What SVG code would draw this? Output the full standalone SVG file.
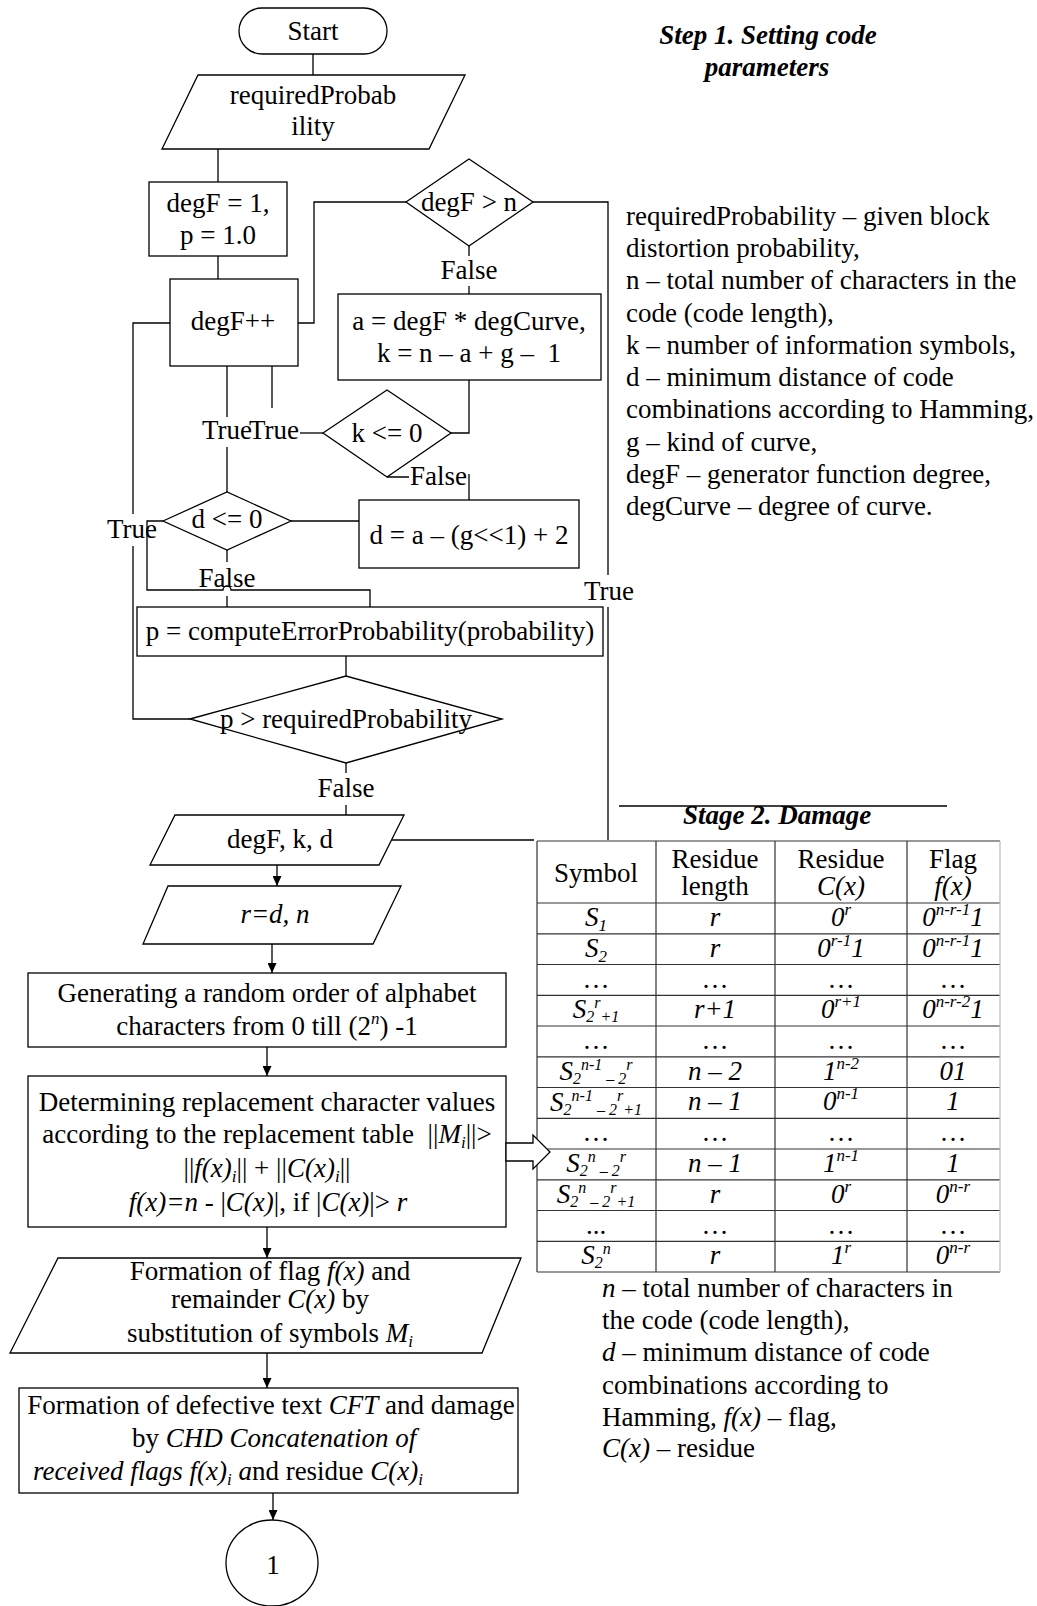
<svg xmlns="http://www.w3.org/2000/svg" width="1037" height="1606" viewBox="0 0 1037 1606">
<style>
text{font-family:"Liberation Serif","Times New Roman",serif;font-size:27px;fill:#000}
.m{text-anchor:middle}
.i{font-style:italic}
.bi{font-weight:bold;font-style:italic}
.sm{font-size:17px}
.ss{font-size:16px}
.s{fill:none;stroke:#000;stroke-width:1.3}
.n{fill:#fff;stroke:#000;stroke-width:1.3}
.tl{stroke:#333;stroke-width:1.2;fill:none}
.ar{marker-end:url(#ah)}
</style>
<defs>
<marker id="ah" markerUnits="userSpaceOnUse" markerWidth="10" markerHeight="9" refX="10" refY="4.5" orient="auto">
<path d="M0,0 L10,4.5 L0,9 z" fill="#000"/>
</marker>
</defs>
<rect width="1037" height="1606" fill="#fff"/>

<g id="start"><rect class="n" x="239" y="8" width="148" height="46" rx="23"/><text class="m" x="313" y="40">Start</text></g>
<g id="input-prob"><polygon class="n" points="198,75 465,75 429,149 162,149"/><text class="m" x="313" y="104">requiredProbab</text><text class="m" x="313" y="135">ility</text></g>
<g id="init"><rect class="n" x="149" y="182" width="138" height="74"/><text class="m" x="218" y="212">degF = 1,</text><text class="m" x="218" y="244">p = 1.0</text></g>
<g id="inc"><rect class="n" x="170" y="279" width="128" height="87"/><text class="m" x="233" y="330">degF++</text></g>
<g id="cond-degf"><polygon class="n" points="406,202 469,159 533,202 469,246"/><text class="m" x="469" y="211">degF &gt; n</text></g>
<g id="calc-ak"><rect class="n" x="338" y="294" width="263" height="86"/><text class="m" x="469" y="330">a = degF * degCurve,</text><text class="m" x="469" y="362">k = n – a + g – &#160;1</text></g>
<g id="cond-k"><polygon class="n" points="323,433 387,390 451,433 387,477"/><text class="m" x="387" y="442">k &lt;= 0</text></g>
<g id="cond-d"><polygon class="n" points="163,521 227,492 291,521 227,550"/><text class="m" x="227" y="528">d &lt;= 0</text></g>
<g id="calc-d"><rect class="n" x="359" y="500" width="220" height="68"/><text class="m" x="469" y="544">d = a – (g&lt;&lt;1) + 2</text></g>
<g id="compute"><rect class="n" x="137" y="607" width="466" height="49"/><text class="m" x="370" y="640">p = computeErrorProbability(probability)</text></g>
<g id="cond-p"><polygon class="n" points="190,719 346,676 502,719 346,763"/><text class="m" x="346" y="728">p &gt; requiredProbability</text></g>
<g id="out-params"><polygon class="n" points="175,815 404,815 379,865 150,865"/><text class="m" x="280" y="848">degF, k, d</text></g>
<g id="in-rn"><polygon class="n" points="168,886 401,886 373,944 143,944"/><text class="m i" x="275" y="923">r=d, n</text></g>
<g id="generate"><rect class="n" x="28" y="973" width="478" height="74"/><text class="m" x="267" y="1002">Generating a random order of alphabet</text><text class="m" x="267" y="1035">characters from 0 till (2<tspan class="sm i" dy="-11">n</tspan><tspan dy="11">) -1</tspan></text></g>
<g id="determine"><rect class="n" x="28" y="1076" width="478" height="151"/>
<text class="m" x="267" y="1111">Determining replacement character values</text>
<text class="m" x="267" y="1143">according to the replacement table &#160;||<tspan class="i">M</tspan><tspan class="sm i" dy="5">i</tspan><tspan dy="-5">||&gt;</tspan></text>
<text class="m" x="267" y="1177">||<tspan class="i">f(x)</tspan><tspan class="sm i" dy="5">i</tspan><tspan dy="-5">|| + ||</tspan><tspan class="i">C(x)</tspan><tspan class="sm i" dy="5">i</tspan><tspan dy="-5">||</tspan></text>
<text class="m" x="268" y="1211"><tspan class="i">f(x)=n</tspan> - |<tspan class="i">C(x)</tspan>|, if |<tspan class="i">C(x)</tspan>|&gt; <tspan class="i">r</tspan></text></g>
<g id="formation"><polygon class="n" points="58,1258 521,1258 482,1353 10,1353"/>
<text class="m" x="270" y="1280">Formation of flag <tspan class="i">f(x)</tspan> and</text>
<text class="m" x="270" y="1308">remainder <tspan class="i">C(x)</tspan> by</text>
<text class="m" x="270" y="1342">substitution of symbols <tspan class="i">M</tspan><tspan class="sm i" dy="5">i</tspan></text></g>
<g id="defective"><rect class="n" x="19" y="1388" width="499" height="105"/>
<text class="m" x="271" y="1414">Formation of defective text <tspan class="i">CFT</tspan> and damage</text>
<text x="132" y="1447">by <tspan class="i">CHD Concatenation of</tspan></text>
<text x="33" y="1480"><tspan class="i">received flags f(x)</tspan><tspan class="sm i" dy="5">i</tspan><tspan class="i" dy="-5"> a</tspan>nd residue <tspan class="i">C(x)</tspan><tspan class="sm i" dy="5">i</tspan></text></g>
<g id="connector-1"><ellipse class="n" cx="272" cy="1563" rx="46" ry="43"/><text class="m" x="273" y="1574">1</text></g>

<g id="labels">
<text class="m" x="469" y="279">False</text>
<text x="410" y="485">False</text>
<text x="202" y="439">True</text>
<text x="249" y="439">True</text>
<text x="107" y="538">True</text>
<text class="m" x="227" y="587">False</text>
<text class="m" x="346" y="797">False</text>
<text x="584" y="600">True</text>
</g>

<g id="step1-title">
<text class="m bi" x="768" y="44">Step 1. Setting code</text>
<text class="m bi" x="767" y="76">parameters</text>
</g>
<g id="step1-legend">
<text x="626" y="225">requiredProbability – given block</text>
<text x="626" y="257">distortion probability,</text>
<text x="626" y="289">n – total number of characters in the</text>
<text x="626" y="322">code (code length),</text>
<text x="626" y="354">k – number of information symbols,</text>
<text x="626" y="386">d – minimum distance of code</text>
<text x="626" y="418">combinations according to Hamming,</text>
<text x="626" y="451">g – kind of curve,</text>
<text x="626" y="483">degF – generator function degree,</text>
<text x="626" y="515">degCurve – degree of curve.</text>
</g>

<g id="stage2-title">
<path class="s" d="M619,806 H947"/>
<text class="m bi" x="777" y="824">Stage 2. Damage</text>
</g>

<g id="table">
<rect x="537" y="841" width="463" height="431" fill="#fff"/>
<path class="tl" d="M537,841 H1000 M537,903 H1000 M537,933.8 H1000 M537,964.5 H1000 M537,995.3 H1000 M537,1026 H1000 M537,1056.8 H1000 M537,1087.5 H1000 M537,1118.3 H1000 M537,1149 H1000 M537,1179.8 H1000 M537,1210.5 H1000 M537,1241.3 H1000 M537,1272 H1000 M537,841 V1272 M656,841 V1272 M775,841 V1272 M907,841 V1272"/>
<path d="M1000,841 V1272" stroke="#bbb" stroke-width="1.2"/>
<text class="m" x="596" y="882">Symbol</text>
<text class="m" x="715" y="868">Residue</text><text class="m" x="715" y="895">length</text>
<text class="m" x="841" y="868">Residue</text><text class="m i" x="841" y="895">C(x)</text>
<text class="m" x="953" y="868">Flag</text><text class="m i" x="953" y="895">f(x)</text>

<text class="m i" x="596" y="926">S<tspan class="sm" dy="5">1</tspan></text>
<text class="m i" x="596" y="957">S<tspan class="sm" dy="5">2</tspan></text>
<text class="m" x="596" y="988">…</text>
<text class="m i" x="596" y="1018">S<tspan class="ss" dy="4">2</tspan><tspan class="ss" dy="-14">r</tspan><tspan class="ss" dy="14">+1</tspan></text>
<text class="m" x="596" y="1049">…</text>
<text class="m i" x="596" y="1080">S<tspan class="ss" dy="4">2</tspan><tspan class="ss" dy="-14">n-1</tspan><tspan class="ss" dy="14"> – 2</tspan><tspan class="ss" dy="-14">r</tspan></text>
<text class="m i" x="596" y="1111">S<tspan class="ss" dy="4">2</tspan><tspan class="ss" dy="-14">n-1</tspan><tspan class="ss" dy="14"> – 2</tspan><tspan class="ss" dy="-14">r</tspan><tspan class="ss" dy="14">+1</tspan></text>
<text class="m" x="596" y="1141">…</text>
<text class="m i" x="596" y="1172">S<tspan class="ss" dy="4">2</tspan><tspan class="ss" dy="-14">n</tspan><tspan class="ss" dy="14"> – 2</tspan><tspan class="ss" dy="-14">r</tspan></text>
<text class="m i" x="596" y="1203">S<tspan class="ss" dy="4">2</tspan><tspan class="ss" dy="-14">n</tspan><tspan class="ss" dy="14"> – 2</tspan><tspan class="ss" dy="-14">r</tspan><tspan class="ss" dy="14">+1</tspan></text>
<text class="m" x="596" y="1234">...</text>
<text class="m i" x="596" y="1264">S<tspan class="ss" dy="4">2</tspan><tspan class="ss" dy="-14">n</tspan></text>

<text class="m i" x="715" y="926">r</text>
<text class="m i" x="715" y="957">r</text>
<text class="m" x="715" y="988">…</text>
<text class="m i" x="715" y="1018">r+1</text>
<text class="m" x="715" y="1049">…</text>
<text class="m i" x="715" y="1080">n – 2</text>
<text class="m i" x="715" y="1110">n – 1</text>
<text class="m" x="715" y="1141">…</text>
<text class="m i" x="715" y="1172">n – 1</text>
<text class="m i" x="715" y="1203">r</text>
<text class="m" x="715" y="1234">…</text>
<text class="m i" x="715" y="1264">r</text>

<text class="m i" x="841" y="926">0<tspan class="sm" dy="-11">r</tspan></text>
<text class="m i" x="841" y="957">0<tspan class="sm" dy="-11">r-1</tspan><tspan dy="11">1</tspan></text>
<text class="m" x="841" y="988">…</text>
<text class="m i" x="841" y="1018">0<tspan class="sm" dy="-11">r+1</tspan></text>
<text class="m" x="841" y="1049">…</text>
<text class="m i" x="841" y="1080">1<tspan class="sm" dy="-11">n-2</tspan></text>
<text class="m i" x="841" y="1110">0<tspan class="sm" dy="-11">n-1</tspan></text>
<text class="m" x="841" y="1141">…</text>
<text class="m i" x="841" y="1172">1<tspan class="sm" dy="-11">n-1</tspan></text>
<text class="m i" x="841" y="1203">0<tspan class="sm" dy="-11">r</tspan></text>
<text class="m" x="841" y="1234">…</text>
<text class="m i" x="841" y="1264">1<tspan class="sm" dy="-11">r</tspan></text>

<text class="m i" x="953" y="926">0<tspan class="sm" dy="-11">n-r-1</tspan><tspan dy="11">1</tspan></text>
<text class="m i" x="953" y="957">0<tspan class="sm" dy="-11">n-r-1</tspan><tspan dy="11">1</tspan></text>
<text class="m" x="953" y="988">…</text>
<text class="m i" x="953" y="1018">0<tspan class="sm" dy="-11">n-r-2</tspan><tspan dy="11">1</tspan></text>
<text class="m" x="953" y="1049">…</text>
<text class="m i" x="953" y="1080">01</text>
<text class="m i" x="953" y="1110">1</text>
<text class="m" x="953" y="1141">…</text>
<text class="m i" x="953" y="1172">1</text>
<text class="m i" x="953" y="1203">0<tspan class="sm" dy="-11">n-r</tspan></text>
<text class="m" x="953" y="1234">…</text>
<text class="m i" x="953" y="1264">0<tspan class="sm" dy="-11">n-r</tspan></text>
</g>

<g id="stage2-legend">
<text x="602" y="1297"><tspan class="i">n</tspan> – total number of characters in</text>
<text x="602" y="1329">the code (code length),</text>
<text x="602" y="1361"><tspan class="i">d</tspan> – minimum distance of code</text>
<text x="602" y="1394">combinations according to</text>
<text x="602" y="1426">Hamming, <tspan class="i">f(x)</tspan> – flag,</text>
<text x="602" y="1457"><tspan class="i">C(x)</tspan> – residue</text>
</g>

<g id="connectors">
<path class="s" d="M313,54 V75"/>
<path class="s" d="M218,149 V182"/>
<path class="s" d="M218,256 V279"/>
<path class="s" d="M298,323 H314 V202 H406"/>
<path class="s" d="M469,246 V256 M469,286 V294"/>
<path class="s" d="M469,380 V433 H451"/>
<path class="s" d="M387,477 H409 M469,474 V500"/>
<path class="s" d="M323,433 H300"/>
<path class="s" d="M272,366 V408"/>
<path class="s" d="M227,366 V417 M227,447 V492"/>
<path class="s" d="M291,521 H359"/>
<path class="s" d="M227,550 V562 M227,596 V607"/>
<path class="s" d="M163,521 H147 V590 H223 A4,4 0 0 1 231,590 H370 V607"/>
<path class="s" d="M346,656 V676"/>
<path class="s" d="M190,719 H133 V546 M133,514 V323 H170"/>
<path class="s" d="M346,763 V773 M346,805 V815"/>
<path class="s" d="M533,202 H608 V575 M608,607 V840"/>
<path class="s" d="M392,840 H534"/>
<path class="s ar" d="M277,865 V886"/>
<path class="s ar" d="M272,944 V973"/>
<path class="s ar" d="M267,1047 V1076"/>
<path class="s ar" d="M267,1227 V1258"/>
<path class="s ar" d="M267,1353 V1388"/>
<path class="s ar" d="M273,1493 V1520"/>
<polygon class="n" points="506,1143 533,1143 533,1135 550,1152 533,1169 533,1161 506,1161"/>
</g>
</svg>
